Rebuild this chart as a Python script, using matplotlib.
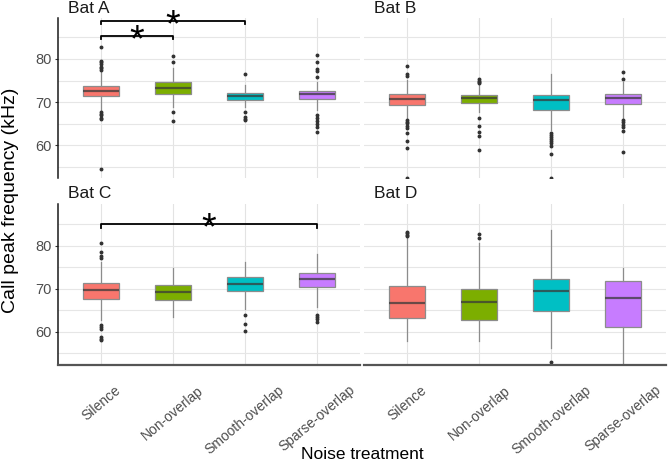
import matplotlib.pyplot as plt
import numpy as np

plt.rcParams['font.family'] = ['Liberation Sans', 'DejaVu Sans']

treatments = ["Silence", "Non-overlap", "Smooth-overlap", "Sparse-overlap"]
bats = ["Bat A", "Bat B", "Bat C", "Bat D"]
colors = ["#F8766D", "#7CAE00", "#00BFC4", "#C77CFF"]

# box stats per bat, one value per treatment
q1 = {
    "Bat A": [71.36, 71.97, 70.58, 70.66],
    "Bat B": [69.35, 69.81, 68.27, 69.66],
    "Bat C": [67.57, 67.41, 69.43, 70.36],
    "Bat D": [63.15, 62.77, 64.86, 61.06],
}
medians = {
    "Bat A": [72.66, 73.28, 71.36, 71.82],
    "Bat B": [70.81, 70.89, 70.58, 71.05],
    "Bat C": [69.66, 69.35, 71.21, 72.29],
    "Bat D": [66.79, 66.95, 69.58, 67.80],
}
q3 = {
    "Bat A": [73.67, 74.67, 72.05, 72.59],
    "Bat B": [71.82, 71.59, 71.59, 71.82],
    "Bat C": [71.28, 70.82, 72.68, 73.61],
    "Bat D": [70.59, 70.04, 72.37, 71.90],
}
whisk_lo = {
    "Bat A": [68.0, 68.8, 68.96, 68.2],
    "Bat B": [66.27, 67.8, 63.57, 66.27],
    "Bat C": [62.77, 63.39, 65.25, 65.86],
    "Bat D": [57.81, 57.81, 56.34, 52.0],
}
whisk_hi = {
    "Bat A": [76.9, 77.8, 73.98, 74.75],
    "Bat B": [75.13, 73.98, 76.44, 74.75],
    "Bat C": [76.32, 74.92, 76.16, 78.02],
    "Bat D": [81.74, 80.58, 83.67, 74.92],
}
outliers = {
    "Bat A": [
        [82.8, 79.6, 79.2, 78.8, 78.2, 77.8, 77.4, 67.6, 67.3, 66.9, 66.4, 66.1, 54.5],
        [80.7, 79.3, 67.7, 65.6],
        [76.4, 67.8, 66.6, 66.2, 65.8],
        [80.8, 79.2, 77.6, 77.2, 75.8, 67.0, 66.3, 65.7, 65.0, 64.2, 63.0],
    ],
    "Bat B": [
        [78.4, 76.4, 76.0, 65.8, 65.5, 65.1, 64.5, 63.9, 62.9, 60.9, 59.3, 52.5],
        [75.3, 75.0, 74.75, 74.4, 66.4, 64.5, 63.0, 62.1, 59.0],
        [62.9, 62.4, 62.0, 61.5, 61.0, 60.6, 59.9, 57.9, 52.5],
        [76.9, 75.4, 65.8, 65.3, 64.7, 64.3, 63.4, 58.4],
    ],
    "Bat C": [
        [80.7, 78.6, 77.6, 77.1, 61.6, 61.2, 60.6, 58.9, 58.4, 58.0],
        [],
        [63.8, 61.9, 60.2],
        [63.8, 63.4, 63.0, 62.2],
    ],
    "Bat D": [
        [83.1, 82.9, 82.6, 82.3],
        [82.8, 81.7],
        [53.1],
        [],
    ],
}

# significance brackets: (bat, first treatment, second treatment, bracket height)
signif = [
    ("Bat A", 0, 1, 85.3),
    ("Bat A", 0, 2, 88.85),
    ("Bat C", 0, 3, 85.0),
]

fig = plt.figure(figsize=(6.68, 4.67), dpi=100)

pos = {
    "Bat A": [0.0864, 0.6195, 0.4525, 0.3413],
    "Bat B": [0.5449, 0.6195, 0.4528, 0.3413],
    "Bat C": [0.0864, 0.2184, 0.4525, 0.3448],
    "Bat D": [0.5449, 0.2184, 0.4528, 0.3448],
}
ylims = {"Bat A": (52.5, 89.4), "Bat B": (52.5, 89.4),
         "Bat C": (52.3, 89.7), "Bat D": (52.3, 89.7)}

x = np.arange(1, 5)

for k, bat in enumerate(bats):
    ax = fig.add_axes(pos[bat])
    stats = []
    for i in range(4):
        stats.append(dict(med=medians[bat][i], q1=q1[bat][i], q3=q3[bat][i],
                          whislo=whisk_lo[bat][i], whishi=whisk_hi[bat][i],
                          fliers=outliers[bat][i]))
    bp = ax.bxp(stats, positions=x, widths=0.5, patch_artist=True, showcaps=False,
                boxprops=dict(edgecolor='#8c8c8c', linewidth=0.9),
                whiskerprops=dict(color='#8c8c8c', linewidth=0.9),
                medianprops=dict(color='#3a3a3a', linewidth=1.6, alpha=0.75),
                flierprops=dict(marker='o', markersize=1.8, markerfacecolor='#333333',
                                markeredgecolor='#333333'))
    for patch, c in zip(bp['boxes'], colors):
        patch.set_facecolor(c)

    ax.set_xlim(0.4, 4.6)
    ax.set_ylim(*ylims[bat])
    ax.set_yticks([60, 70, 80])
    ax.set_yticks([55, 65, 75, 85], minor=True)
    ax.set_xticks(x)
    ax.set_axisbelow(True)
    ax.grid(True, which='both', axis='y', color='#e6e6e6', lw=0.8)
    ax.grid(True, axis='x', color='#e3e3e3', lw=0.8)
    ax.tick_params(which='minor', length=0)
    ax.tick_params(axis='both', length=2.5, color='#333333', labelcolor='#4d4d4d',
                   labelsize=10.5, pad=2)

    for s in ['top', 'right']:
        ax.spines[s].set_visible(False)
    left_col = k % 2 == 0
    bottom_row = k >= 2
    if left_col:
        ax.spines['left'].set_color('#1a1a1a')
        ax.spines['left'].set_linewidth(1.1)
    else:
        ax.spines['left'].set_visible(False)
        ax.tick_params(axis='y', left=False, labelleft=False)
    if bottom_row:
        ax.spines['bottom'].set_color('#555555')
        ax.spines['bottom'].set_linewidth(1.6)
        ax.set_xticklabels(treatments, rotation=40, ha='center', va='top',
                           fontsize=10)
        ax.tick_params(axis='x', length=0, pad=13)
    else:
        ax.spines['bottom'].set_visible(False)
        ax.tick_params(axis='x', bottom=False, labelbottom=False)

    b = pos[bat]
    fig.text(b[0] + 0.0154, b[1] + b[3] + 0.0118, bat, fontsize=12.5,
             color='#1a1a1a', va='baseline', ha='left')

    for sb, i, j, yb in signif:
        if sb != bat:
            continue
        tip = 0.8
        ax.plot([x[i], x[i], x[j], x[j]], [yb - tip, yb, yb, yb - tip],
                color='black', lw=1.3, clip_on=False)
        ax.annotate('*', xy=((x[i] + x[j]) / 2, yb), xytext=(0, -11),
                    textcoords='offset points', ha='center', va='baseline',
                    fontsize=27, annotation_clip=False)

fig.text(0.543, 0.01, "Noise treatment", ha='center', va='bottom', fontsize=12.5,
         color='black')
fig.text(0.016, 0.572, "Call peak frequency (kHz)", ha='center', va='center',
         rotation=90, fontsize=14, color='black')

fig.savefig("out.png", dpi=100)
